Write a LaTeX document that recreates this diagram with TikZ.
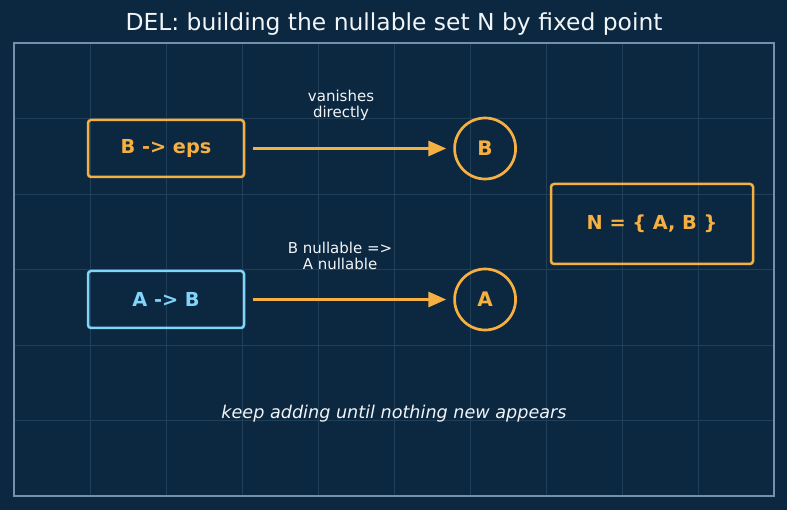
\documentclass[tikz,border=0pt]{standalone}
\usepackage{fontspec}
\setmainfont{DejaVu Sans}
\usetikzlibrary{positioning,arrows.meta}
\definecolor{navy}{HTML}{0C2840}
\definecolor{gridline}{HTML}{20405A}
\definecolor{framegrey}{HTML}{7590AA}
\definecolor{amber}{HTML}{F6B042}
\definecolor{skyblue}{HTML}{81D4FA}
\definecolor{offwhite}{HTML}{F2F5F8}
\tikzset{
  rulebox/.style={rectangle, rounded corners=3pt, draw=#1, line width=2.5pt,
                  text=#1, font=\fontsize{19.3}{22}\selectfont\bfseries,
                  minimum width=156pt, minimum height=57pt},
  sym/.style={circle, draw=amber, line width=2.7pt, text=amber,
              font=\fontsize{20}{22}\selectfont\bfseries,
              minimum size=61pt, inner sep=0pt},
  ar/.style={-{Triangle[length=18pt,width=15pt]}, line width=2.9pt, draw=amber,
             shorten <=8pt, shorten >=7pt},
  lbl/.style={font=\fontsize{15}{16}\selectfont, text=offwhite, align=center},
}

\begin{document}
\begin{tikzpicture}[x=1pt, y=-1pt]
  % backdrop, grid and frame
  \fill[navy] (0,0) rectangle (787,510);
  \foreach \i in {1,...,9}
    \draw[gridline, line width=0.8pt] (14+76*\i,43) -- (14+76*\i,496);
  \foreach \j in {1,...,5}
    \draw[gridline, line width=0.8pt] (14,43+75.5*\j) -- (774,43+75.5*\j);
  \draw[framegrey, line width=1.5pt] (14,43) rectangle (774,496);

  \node[font=\fontsize{23.4}{27}\selectfont, text=offwhite] (title) at (394,24)
    {DEL: building the nullable set N by fixed point};

  \node[rulebox=amber] (beps) at (166,148.5) {B -> eps};
  \node[rulebox=skyblue, below=91.5pt of beps] (ab) {A -> B};

  \node[sym, right=208pt of beps] (nb) {B};
  \node[sym, right=208pt of ab] (na) {A};

  \node[rulebox=amber, minimum width=202pt, minimum height=80pt] (nset) at (652,224)
    {N = \{ A, B \}};

  \draw[ar] (beps) -- (nb);
  \draw[ar] (ab) -- (na);
  \node[lbl] (why1) at (341,105) {vanishes\\directly};
  \node[lbl] (why2) at (340,256) {B nullable =>\\A nullable};

  \node[font=\fontsize{17.6}{20}\selectfont\itshape, text=offwhite] (note) at (394,414)
    {keep adding until nothing new appears};
\end{tikzpicture}
\end{document}
